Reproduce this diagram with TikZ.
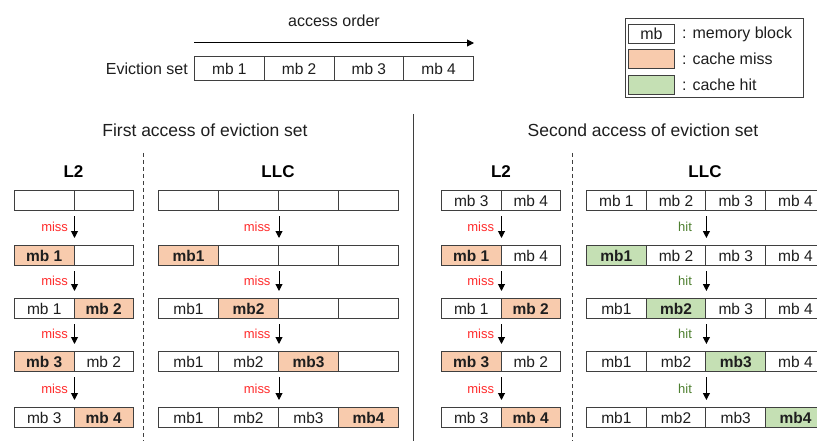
\documentclass[tikz,border=0pt]{standalone}
\usepackage{fontspec}
\setmainfont{Liberation Sans}
\usetikzlibrary{arrows.meta}

\definecolor{linec}{HTML}{3F3F3F}
\definecolor{missfill}{HTML}{F8CBAD}
\definecolor{hitfill}{HTML}{C5E0B4}
\definecolor{missred}{HTML}{FF2B2B}
\definecolor{hitgreen}{HTML}{4E7F30}
\definecolor{txt}{HTML}{1E1E1E}

\newcommand\cellfont{\fontsize{15.5}{16}\selectfont}

% one row of memory-block cells: name, left x, top y, cell width, cells (fill/weight/text)
\newcommand\blockrow[5]{%
  \foreach \f/\w/\t [count=\i from 0] in {#5}{
    \node[cell, fill=\f, font=\cellfont\w, minimum width=#4pt] (#1c\i) at ({#2+\i*#4}, #3) {\t};
  }}

% arrows between consecutive rows at the border after cell #2, labelled #3
\newcommand\rowarrows[4]{%
  \foreach \r in {0,...,3}{
    \pgfmathtruncatemacro\n{\r+1}
    \draw[flow] ([yshift=-5pt]#1\r c#2.south east) -- ([yshift=7pt]#1\n c#2.north east)
      node[midway, left=#4pt, #3lbl] {#3};
  }}

\begin{document}
\begin{tikzpicture}[x=1pt, y=-1pt,
  cell/.style={draw=linec, line width=1pt, minimum height=20pt, inner sep=0pt,
               anchor=north west, text=txt},
  flow/.style={-{Triangle[length=7pt,width=7pt]}, line width=1pt, draw=black},
  misslbl/.style={text=missred, inner sep=0pt, font=\fontsize{13}{13}\selectfont},
  hitlbl/.style={text=hitgreen, inner sep=0pt, font=\fontsize{13}{13}\selectfont},
  title/.style={text=txt, font=\fontsize{17.5}{18}\selectfont},
  level/.style={text=black, font=\fontsize{17}{18}\selectfont\bfseries},
  plain/.style={text=txt, font=\fontsize{16}{16}\selectfont, inner sep=0pt},
  divider/.style={draw=linec, line width=1pt},
]
\useasboundingbox (0,0) rectangle (817,441);

% ---- eviction set and access order ----
\begin{scope}[cell/.append style={minimum height=24pt}]
\blockrow{ev}{194}{56}{69.75}{white/\mdseries/mb 1, white/\mdseries/mb 2, white/\mdseries/mb 3, white/\mdseries/mb 4}
\end{scope}
\node[plain, anchor=east] (evlabel) at ([xshift=-6pt]evc0.west) {Eviction set};
\draw[flow] ([yshift=13pt]evc0.north west) coordinate (aostart)
  -- ([yshift=13pt]evc3.north east) coordinate (aoend);
\node[plain] (aolabel) at (334,21) {access order};

% ---- legend ----
\draw[draw=linec, line width=1pt] (625,19) rectangle (803,98);
\node[cell, minimum width=46pt, minimum height=19pt, font=\fontsize{16}{16}\selectfont] (lgmb) at (628,24) {mb};
\node[cell, minimum width=46pt, minimum height=19pt, fill=missfill] (lgmiss) at (628,49) {};
\node[cell, minimum width=46pt, minimum height=19pt, fill=hitfill] (lghit) at (628,75) {};
\node[plain, anchor=west] (lgt1) at ([xshift=7pt]lgmb.east) {: memory block};
\node[plain, anchor=west] (lgt2) at ([xshift=7pt]lgmiss.east) {: cache miss};
\node[plain, anchor=west] (lgt3) at ([xshift=7pt]lghit.east) {: cache hit};

% ---- section dividers ----
\draw[divider] (413,114) -- (413,441);
\draw[divider, dash pattern=on 4pt off 3pt] (143.5,153) -- (143.5,441);
\draw[divider, dash pattern=on 4pt off 3pt] (572,153) -- (572,441);

% ---- titles ----
\node[title] (t1) at (205,130) {First access of eviction set};
\node[title] (t2) at (643,130) {Second access of eviction set};
\node[level] (l2a) at (73.5,172) {L2};
\node[level] (llca) at (278,172) {LLC};
\node[level] (l2b) at (501,172) {L2};
\node[level] (llcb) at (705,172) {LLC};

% ---- first access: L2 ----
\blockrow{Ar0}{14}{190}{59.5}{white/\mdseries/, white/\mdseries/}
\blockrow{Ar1}{14}{245}{59.5}{missfill/\bfseries/mb 1, white/\mdseries/}
\blockrow{Ar2}{14}{298}{59.5}{white/\mdseries/mb 1, missfill/\bfseries/mb 2}
\blockrow{Ar3}{14}{351}{59.5}{missfill/\bfseries/mb 3, white/\mdseries/mb 2}
\blockrow{Ar4}{14}{407}{59.5}{white/\mdseries/mb 3, missfill/\bfseries/mb 4}
\rowarrows{Ar}{0}{miss}{6}

% ---- first access: LLC ----
\blockrow{Br0}{158}{190}{60}{white/\mdseries/, white/\mdseries/, white/\mdseries/, white/\mdseries/}
\blockrow{Br1}{158}{245}{60}{missfill/\bfseries/mb1, white/\mdseries/, white/\mdseries/, white/\mdseries/}
\blockrow{Br2}{158}{298}{60}{white/\mdseries/mb1, missfill/\bfseries/mb2, white/\mdseries/, white/\mdseries/}
\blockrow{Br3}{158}{351}{60}{white/\mdseries/mb1, white/\mdseries/mb2, missfill/\bfseries/mb3, white/\mdseries/}
\blockrow{Br4}{158}{407}{60}{white/\mdseries/mb1, white/\mdseries/mb2, white/\mdseries/mb3, missfill/\bfseries/mb4}
\rowarrows{Br}{1}{miss}{8}

% ---- second access: L2 ----
\blockrow{Cr0}{441}{190}{59.5}{white/\mdseries/mb 3, white/\mdseries/mb 4}
\blockrow{Cr1}{441}{245}{59.5}{missfill/\bfseries/mb 1, white/\mdseries/mb 4}
\blockrow{Cr2}{441}{298}{59.5}{white/\mdseries/mb 1, missfill/\bfseries/mb 2}
\blockrow{Cr3}{441}{351}{59.5}{missfill/\bfseries/mb 3, white/\mdseries/mb 2}
\blockrow{Cr4}{441}{407}{59.5}{white/\mdseries/mb 3, missfill/\bfseries/mb 4}
\rowarrows{Cr}{0}{miss}{7}

% ---- second access: LLC ----
\blockrow{Dr0}{586}{190}{59.7}{white/\mdseries/mb 1, white/\mdseries/mb 2, white/\mdseries/mb 3, white/\mdseries/mb 4}
\blockrow{Dr1}{586}{245}{59.7}{hitfill/\bfseries/mb1, white/\mdseries/mb 2, white/\mdseries/mb 3, white/\mdseries/mb 4}
\blockrow{Dr2}{586}{298}{59.7}{white/\mdseries/mb1, hitfill/\bfseries/mb2, white/\mdseries/mb 3, white/\mdseries/mb 4}
\blockrow{Dr3}{586}{351}{59.7}{white/\mdseries/mb1, white/\mdseries/mb2, hitfill/\bfseries/mb3, white/\mdseries/mb 4}
\blockrow{Dr4}{586}{407}{59.7}{white/\mdseries/mb1, white/\mdseries/mb2, white/\mdseries/mb3, hitfill/\bfseries/mb4}
\rowarrows{Dr}{1}{hit}{14}

\end{tikzpicture}
\end{document}
